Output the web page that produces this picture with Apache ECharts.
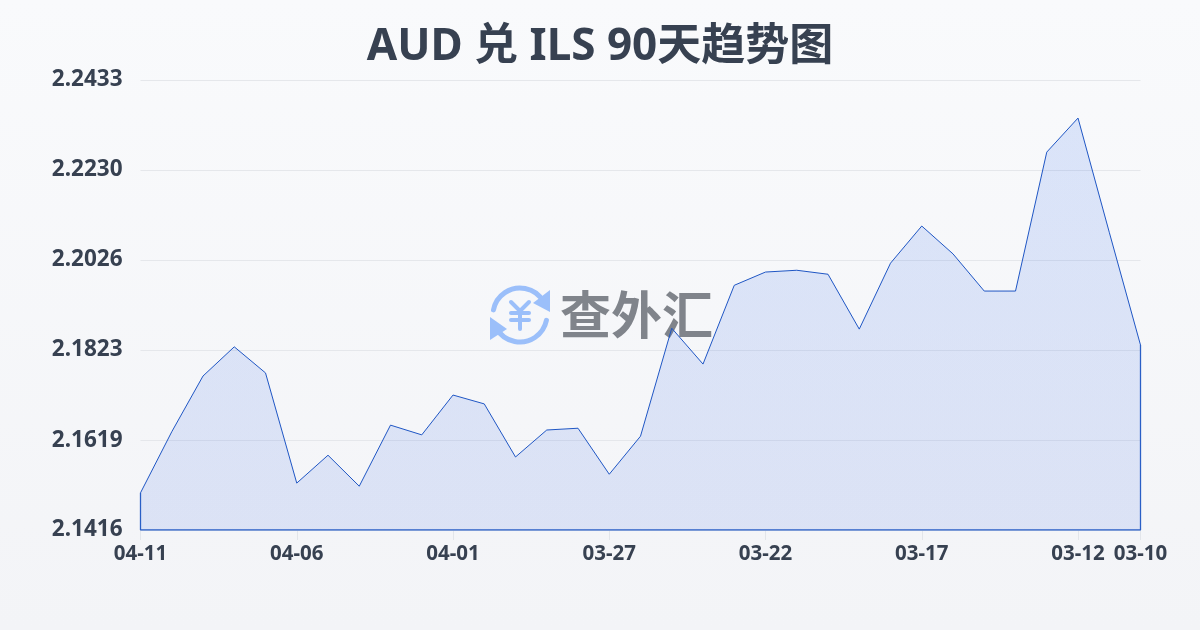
<!DOCTYPE html>
<html><head><meta charset="utf-8">
<style>html,body{margin:0;padding:0;width:1200px;height:630px;overflow:hidden}#c{width:1200px;height:630px}</style>
<script src="https://cdn.jsdelivr.net/npm/echarts@6/dist/echarts.min.js"></script>
</head><body><div id="c"></div>
<script>
const titleText = 'AUD 兑 ILS 90天趋势图';
const dates = ['04-11','04-10','04-09','04-08','04-07','04-06','04-05','04-04','04-03','04-02','04-01','03-31','03-30','03-29','03-28','03-27','03-26','03-25','03-24','03-23','03-22','03-21','03-20','03-19','03-18','03-17','03-16','03-15','03-14','03-13','03-12','03-11','03-10'];
const rates = [2.1500,2.1638,2.1764,2.1830,2.1771,2.1522,2.1585,2.1515,2.1653,2.1631,2.1721,2.1701,2.1581,2.1642,2.1646,2.1542,2.1628,2.1872,2.1791,2.1969,2.1999,2.2003,2.1994,2.1870,2.2019,2.2103,2.2040,2.1956,2.1956,2.2270,2.2347,2.2089,2.1834];
const yTicks = [2.1416,2.1619,2.1823,2.2026,2.2230,2.2433];
const yMin = 2.1416, yMax = 2.2433;
const watermark = '查外汇';

const showTick = (i) => i % 5 === 0 || i === dates.length - 1;
const first = dates[0], last = dates[dates.length - 1];
const edges = [[last, rates[rates.length - 1]], [last, yMin], [first, yMin], [first, rates[0]]];
const logoBlue = '#9bbffa';

const chart = echarts.init(document.getElementById('c'), null, {renderer: 'canvas'});
chart.setOption({
  animation: false,
  backgroundColor: {type: 'linear', x: 0, y: 0, x2: 0, y2: 1, colorStops: [{offset: 0, color: '#f9fafc'}, {offset: 1, color: '#f3f4f7'}]},
  title: {text: titleText, left: 'center', top: 20, textStyle: {fontFamily: '"Noto Sans","Noto Sans CJK SC",sans-serif', fontSize: 44, fontWeight: 'bold', color: '#374151'}},
  grid: {left: 140.5, right: 59.5, top: 80, bottom: 100},
  xAxis: {
    type: 'category', data: dates, boundaryGap: false,
    axisLine: {show: false},
    axisTick: {show: true, interval: showTick, length: 10, lineStyle: {color: '#e2e5ea', width: 1}},
    axisLabel: {interval: showTick, margin: 14, fontFamily: '"Noto Sans",sans-serif', fontSize: 20.5, fontWeight: 'bold', color: '#374151', hideOverlap: false},
    splitLine: {show: false}
  },
  yAxis: {
    type: 'value', min: yMin, max: yMax,
    axisLine: {show: false}, axisTick: {show: false, customValues: yTicks},
    axisLabel: {customValues: yTicks, margin: 18, padding: [2, 0, 0, 0], formatter: v => v.toFixed(4), fontFamily: '"Noto Sans",sans-serif', fontSize: 22.5, fontWeight: 'bold', color: '#374151', showMinLabel: true, showMaxLabel: true},
    splitLine: {show: true, lineStyle: {color: '#e5e7eb', width: 1}}
  },
  graphic: [
    {type: 'arc', z: 0, shape: {cx: 520, cy: 315, r: 27, startAngle: -2.95, endAngle: -0.5}, style: {stroke: logoBlue, fill: 'none', lineWidth: 5, lineCap: 'round'}},
    {type: 'arc', z: 0, shape: {cx: 520, cy: 315, r: 27, startAngle: 0.2, endAngle: 2.65}, style: {stroke: logoBlue, fill: 'none', lineWidth: 5, lineCap: 'round'}},
    {type: 'polygon', z: 0, shape: {points: [[550, 312], [533, 303], [550, 290]]}, style: {fill: logoBlue}},
    {type: 'polygon', z: 0, shape: {points: [[490, 317], [507, 329], [490, 340]]}, style: {fill: logoBlue}},
    {type: 'polyline', z: 0, shape: {points: [[511, 302], [520, 311], [529, 302]]}, style: {stroke: logoBlue, fill: 'none', lineWidth: 4, lineCap: 'round', lineJoin: 'round'}},
    {type: 'line', z: 0, shape: {x1: 511, y1: 313, x2: 529, y2: 313}, style: {stroke: logoBlue, lineWidth: 4, lineCap: 'round'}},
    {type: 'line', z: 0, shape: {x1: 511, y1: 320, x2: 529, y2: 320}, style: {stroke: logoBlue, lineWidth: 4, lineCap: 'round'}},
    {type: 'line', z: 0, shape: {x1: 520, y1: 311, x2: 520, y2: 329}, style: {stroke: logoBlue, lineWidth: 4, lineCap: 'round'}},
    {type: 'text', z: 0, style: {text: watermark, x: 560, y: 315, verticalAlign: 'middle', font: 'bold 51px "Noto Sans CJK SC"', fill: '#80848b'}}
  ],
  series: [
    {type: 'line', z: 3, data: rates, symbol: 'none', smooth: false, lineStyle: {color: '#1f56c4', width: 1},
     areaStyle: {origin: 'start', color: {type: 'linear', x: 0, y: 0, x2: 0, y2: 1, colorStops: [{offset: 0, color: 'rgba(37,99,235,0.2)'}, {offset: 1, color: 'rgba(37,88,225,0.17)'}]}}},
    {type: 'line', z: 3, data: edges, symbol: 'none', lineStyle: {color: '#2a5fc6', width: 1.3}, silent: true}
  ]
});
</script></body></html>
